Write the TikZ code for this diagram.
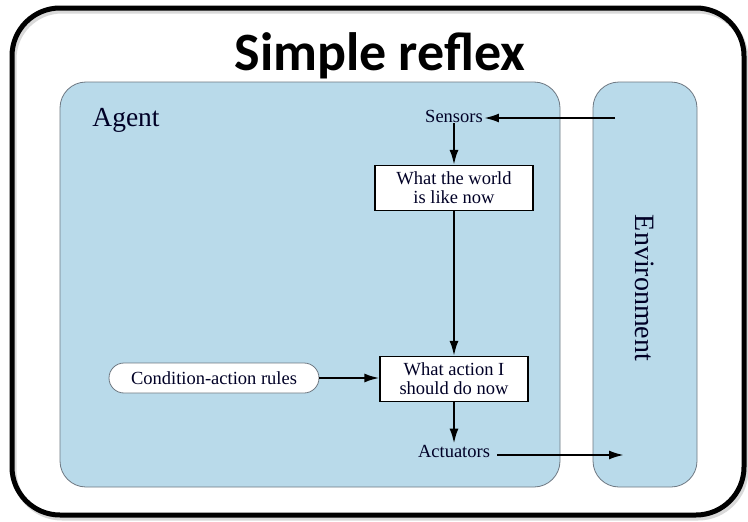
\documentclass[tikz,border=0pt]{standalone}
\usepackage{fontspec}
\setmainfont{Liberation Serif}
\newfontfamily\titlefont{Carlito}
\usetikzlibrary{arrows.meta,shapes.misc}
\definecolor{agentblue}{RGB}{185,218,234}
\definecolor{edgegray}{RGB}{110,120,130}
\begin{document}
\begin{tikzpicture}[x=1pt,y=-1pt,
  region/.style={fill=agentblue,draw=edgegray,line width=0.8pt,rounded corners=26pt},
  lbl/.style={inner sep=1pt,font=\fontsize{18.5}{19}\selectfont,text=black!85!blue},
  stepbox/.style={draw=black,fill=white,line width=1.2pt,align=center,inner sep=1pt,
    minimum width=158pt,minimum height=45pt,font=\fontsize{18.5}{19}\selectfont,text=black!85!blue},
  pill/.style={draw=edgegray,fill=white,rounded rectangle,line width=0.8pt,minimum width=212pt,
    minimum height=30pt,inner sep=1pt,font=\fontsize{18.5}{18}\selectfont,text=black!85!blue},
  conn/.style={line width=2.2pt,-{Latex[length=15pt,width=9pt]}}]
\useasboundingbox (0,0) rectangle (748,522);
\fill[white] (0,0) rectangle (748,522);
% outer frame with shadow
\draw[black!15,line width=5pt,rounded corners=48pt] (14,11) rectangle (746,518);
\draw[black,line width=5pt,rounded corners=48pt] (12,8) rectangle (744,515);
\node[font=\titlefont\bfseries\fontsize{54}{54}\selectfont] (title) at (380,56) {Simple reflex};
% regions
\draw[region] (60,82) rectangle (560,487);
\draw[region] (593,82) rectangle (697,487);
\node[font=\fontsize{27.5}{28}\selectfont,text=black!85!blue] (agent) at (126,120) {Agent};
\node[rotate=-90,font=\fontsize{28}{28}\selectfont,text=black!85!blue] (env) at (645,288) {Environment};
% nodes
\node[lbl] (sensors) at (454,116) {Sensors};
\node[stepbox] (world) at (454,188) {What the world\\is like now};
\node[stepbox,minimum width=148pt] (action) at (454,379) {What action I\\should do now};
\node[pill] (rules) at (214,378) {Condition-action rules};
\node[lbl] (act) at (454,451) {Actuators};
\coordinate (envin) at (615,118);
\coordinate (envout) at (624,455);
\coordinate (actout) at (497,455);
% connectors
\draw[conn] (envin) -- (envin -| sensors.east);
\draw[conn] (sensors.south) -- (world.north);
\draw[conn] (world.south) -- (action.north);
\draw[conn] (rules.east) -- (rules.east -| action.west);
\draw[conn] (action.south) -- (act.north);
\draw[conn] (actout) -- (envout);
\end{tikzpicture}
\end{document}
